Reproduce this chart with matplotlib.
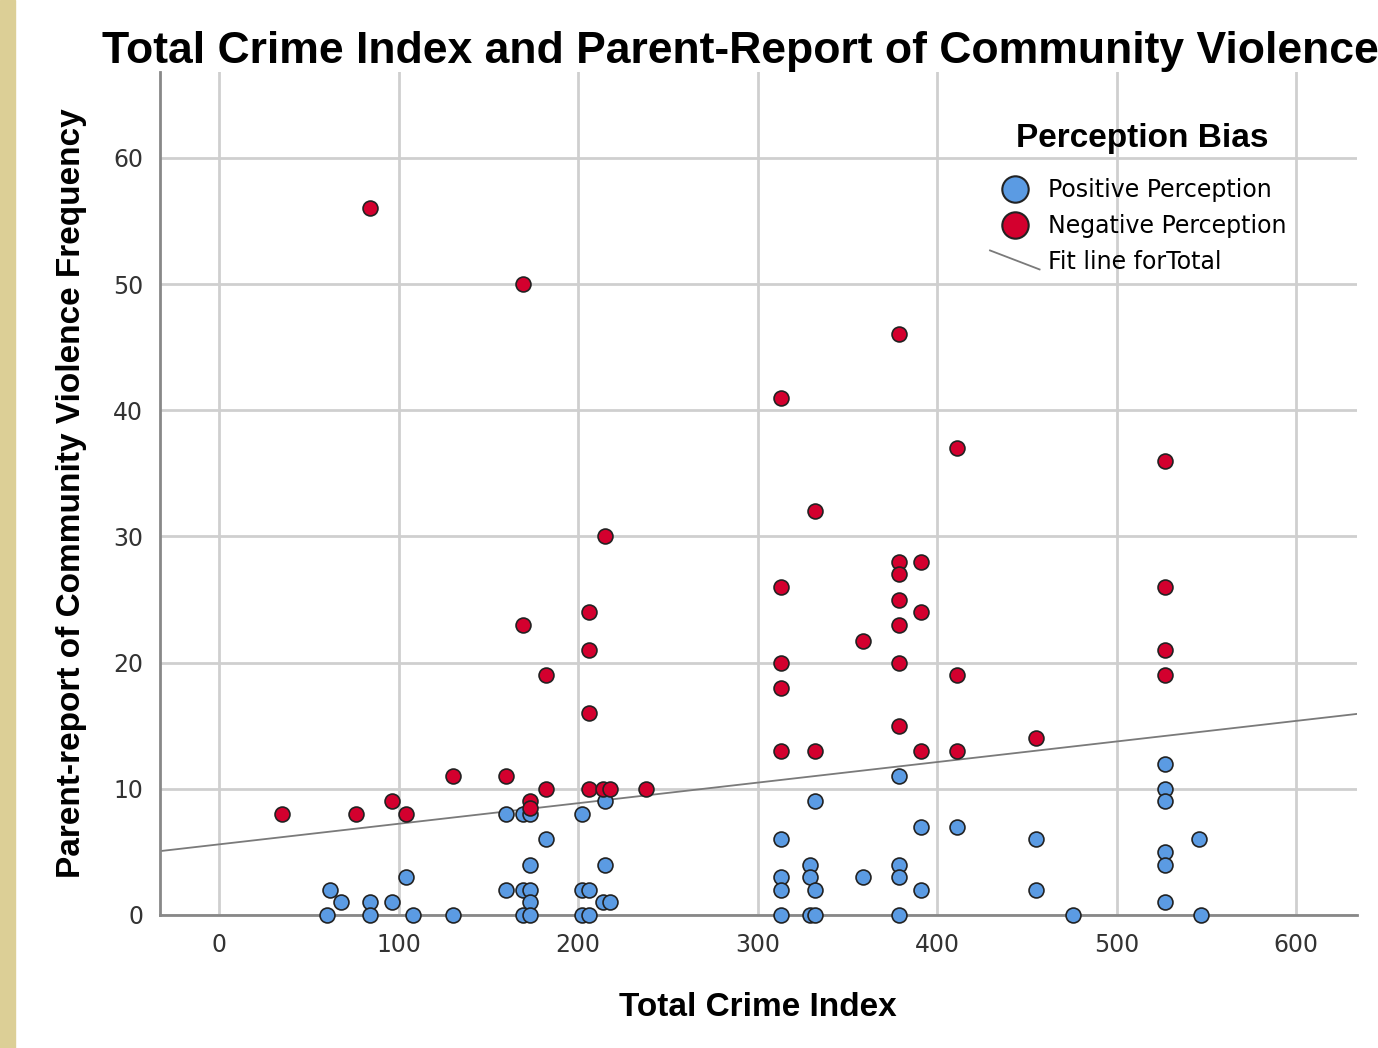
import numpy as np
import matplotlib
matplotlib.use('Agg')
import matplotlib.pyplot as plt
from matplotlib.lines import Line2D
from matplotlib.patches import Rectangle
from matplotlib.legend_handler import HandlerBase

plt.rcParams['font.family'] = ['Liberation Sans', 'DejaVu Sans']

# Negative perception (red)
neg_x = [35, 76, 96, 104, 84, 130, 160, 169, 169, 173, 173, 182, 182,
         206, 206, 206, 206, 215, 214, 218, 238,
         313, 313, 313, 313, 313, 332, 332, 359,
         379, 379, 379, 379, 379, 379, 379, 391, 391, 391,
         411, 411, 411, 455, 527, 527, 527, 527]
neg_y = [8, 8, 9, 8, 56, 11, 11, 50, 23, 9, 8.5, 19, 10,
         24, 21, 16, 10, 30, 10, 10, 10,
         41, 26, 20, 18, 13, 32, 13, 21.7,
         46, 28, 27, 25, 23, 20, 15, 28, 24, 13,
         37, 19, 13, 14, 36, 26, 21, 19]

# Positive perception (blue)
pos_x = [60, 62, 68, 84, 84, 96, 104, 108, 130,
         160, 169, 173, 182, 173, 160, 169, 173, 173, 169, 173,
         202, 215, 215, 202, 206, 214, 218, 202, 206,
         379, 332, 313, 391, 411, 455, 329, 313, 329, 359, 379, 379,
         313, 332, 391, 455, 313, 329, 332, 379,
         527, 527, 527, 546, 527, 527, 527, 476, 547]
pos_y = [0, 2, 1, 1, 0, 1, 3, 0, 0,
         8, 8, 8, 6, 4, 2, 2, 2, 1, 0, 0,
         8, 9, 4, 2, 2, 1, 1, 0, 0,
         11, 9, 6, 7, 7, 6, 4, 3, 3, 3, 4, 3,
         2, 2, 2, 2, 0, 0, 0, 0,
         12, 10, 9, 6, 5, 4, 1, 0, 0]

# fit line for total
fit_intercept = 5.6
fit_slope = 0.0163

x_ticks = [0, 100, 200, 300, 400, 500, 600]
y_ticks = [0, 10, 20, 30, 40, 50, 60]

blue = '#5B9BE3'
red = '#D3002E'
W, H = 1378, 1048


class DiagHandler(HandlerBase):
    def create_artists(self, legend, orig_handle, xdescent, ydescent,
                       width, height, fontsize, trans):
        l = Line2D([-xdescent, -xdescent + width],
                   [-ydescent + height * 1.1, -ydescent - height * 0.05],
                   color=orig_handle.get_color(), lw=orig_handle.get_linewidth(),
                   transform=trans)
        return [l]


fig = plt.figure(figsize=(W / 100, H / 100), dpi=100)
fig.patches.append(Rectangle((0, 0), 15 / W, 1, transform=fig.transFigure,
                             color='#DCCF96', zorder=0))
ax = fig.add_axes([160 / W, 133 / H, 1197 / W, 843 / H])

xl = np.array([-33, 634])
ax.plot(xl, fit_intercept + fit_slope * xl, color='#7A7A7A', lw=1.3, zorder=2)

ax.scatter(pos_x, pos_y, s=115, c=blue, edgecolors='#222222', linewidths=1.2, zorder=3, clip_on=False)
ax.scatter(neg_x, neg_y, s=115, c=red, edgecolors='#222222', linewidths=1.2, zorder=3, clip_on=False)

ax.set_xlim(-33, 634)
ax.set_ylim(0, 66.8)
ax.set_xticks(x_ticks)
ax.set_yticks(y_ticks)
ax.tick_params(length=0, labelsize=17, colors='#333333')
ax.tick_params(axis='x', pad=13)
ax.tick_params(axis='y', pad=12)
for lab in ax.get_xticklabels() + ax.get_yticklabels():
    lab.set_family('DejaVu Sans')
ax.grid(True, color='#CFCFCF', lw=2)
ax.set_axisbelow(True)
for s in ['top', 'right']:
    ax.spines[s].set_visible(False)
for s in ['left', 'bottom']:
    ax.spines[s].set_color('#888888')
    ax.spines[s].set_linewidth(2)

fig.text(758 / W, 1 - 1008 / H, 'Total Crime Index', ha='center', va='center',
         fontsize=24, fontweight='bold')
fig.text(72 / W, 1 - 493 / H, 'Parent-report of Community Violence Frequency',
         ha='center', va='center', rotation=90, fontsize=24, fontweight='bold')
fig.text(740 / W, 1 - 51 / H, 'Total Crime Index and Parent-Report of Community Violence',
         ha='center', va='center', fontsize=32, fontweight='bold')

fig.text(1142 / W, 1 - 139 / H, 'Perception Bias', ha='center', va='center',
         fontsize=24, fontweight='bold')
handles = [Line2D([], [], marker='o', ls='', markersize=19, markerfacecolor=blue,
                  markeredgecolor='#222222', markeredgewidth=1.5),
           Line2D([], [], marker='o', ls='', markersize=19, markerfacecolor=red,
                  markeredgecolor='#222222', markeredgewidth=1.5),
           Line2D([0, 1], [1, 0], color='#7A7A7A', lw=1.3)]
leg = fig.legend(handles, ['Positive Perception', 'Negative Perception', 'Fit line forTotal'],
                 loc='upper left', bbox_to_anchor=(990 / W, 1 - 178 / H), frameon=False,
                 prop={'family': 'DejaVu Sans', 'size': 17}, labelspacing=0.5,
                 handlelength=2.1, handletextpad=0.35, borderpad=0, borderaxespad=0,
                 handler_map={handles[2]: DiagHandler()})

fig.savefig('out.png')
